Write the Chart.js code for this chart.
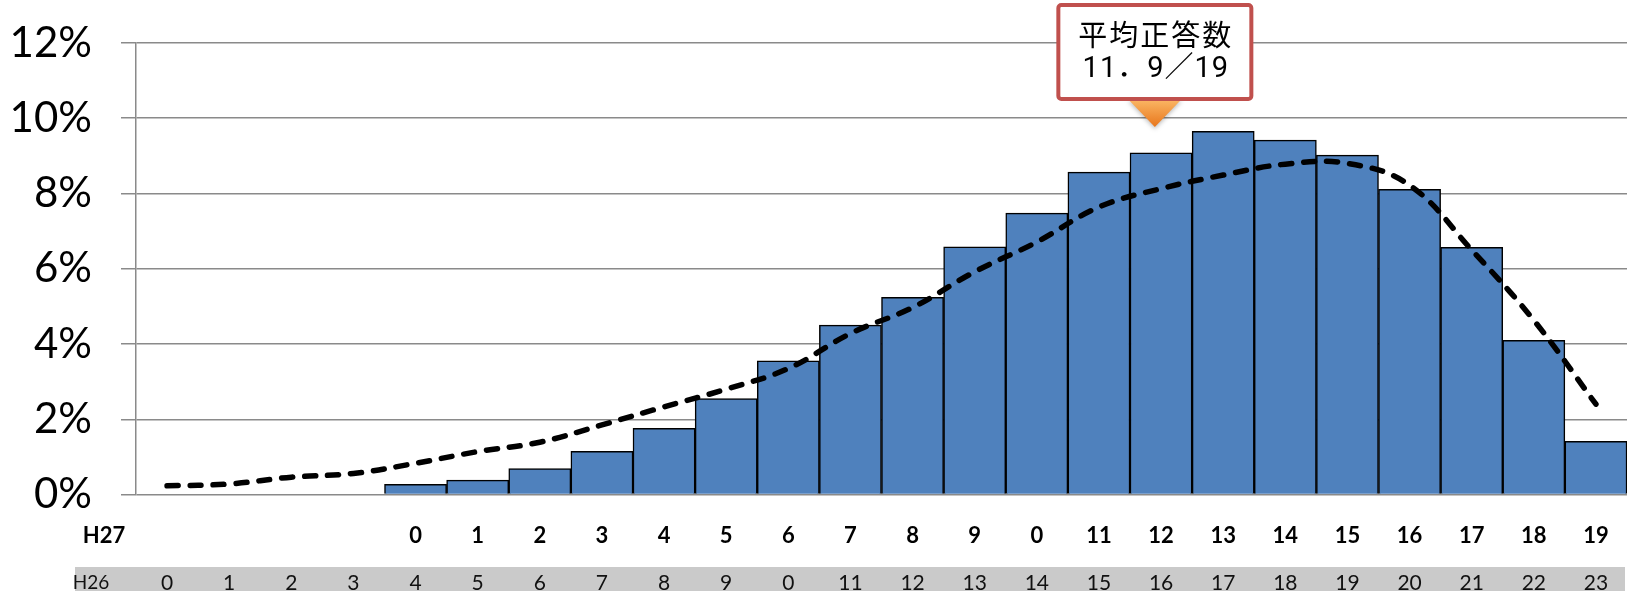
<!DOCTYPE html>
<html lang="ja">
<head>
<meta charset="utf-8">
<script src="https://cdn.jsdelivr.net/npm/chart.js@4/dist/chart.umd.min.js"></script>
<style>
  html, body { margin: 0; padding: 0; background: #ffffff; }
  #wrap { width: 1633px; height: 591px; position: relative; }
</style>
</head>
<body>
<div id="wrap"><canvas id="chart"></canvas></div>
<script>
// Score categories (H26 row labels, 24 categories)
const h26Labels = ['0','1','2','3','4','5','6','7','8','9','0','11','12','13','14','15','16','17','18','19','20','21','22','23'];
// H27 row labels start under the 5th category
const h27Start = 4;
const h27Labels = ['0','1','2','3','4','5','6','7','8','9','0','11','12','13','14','15','16','17','18','19'];

// H27 distribution (%), bars
const h27Values = [0.27, 0.38, 0.69, 1.15, 1.76, 2.55, 3.55, 4.50, 5.24, 6.58,
                   7.48, 8.57, 9.08, 9.65, 9.42, 9.02, 8.11, 6.57, 4.10, 1.41];
// H26 distribution (%), dashed line
const h26Values = [0.23, 0.28, 0.46, 0.56, 0.83, 1.14, 1.39, 1.85, 2.33, 2.80,
                   3.35, 4.28, 4.97, 5.92, 6.71, 7.64, 8.13, 8.49, 8.78, 8.80,
                   8.22, 6.50, 4.63, 2.40];

// Y axis ticks (%)
const yTicks = [0, 2, 4, 6, 8, 10, 12];

// Average score callout
const calloutTitle = '平均正答数';
const meanScore = 11.9;
const totalQuestions = 19;

const barData = h26Labels.map((_, i) => (i >= h27Start ? h27Values[i - h27Start] : null));

// Two-row category labels under the plot
const rowLabelsPlugin = {
  id: 'rowLabels',
  afterDraw(chart) {
    const ctx = chart.ctx;
    const x = chart.scales.x;
    ctx.save();
    // H26 band
    ctx.fillStyle = '#cacaca';
    ctx.fillRect(75, 567, chart.width - 75 - 8, 24);
    ctx.textAlign = 'center';
    ctx.textBaseline = 'middle';
    // H27 row
    ctx.fillStyle = '#000000';
    ctx.font = 'bold 22px Lato';
    ctx.fillText('H27', 104, 536);
    h27Labels.forEach((t, i) => {
      ctx.fillText(t, x.getPixelForValue(i + h27Start), 536);
    });
    // H26 row
    ctx.fillStyle = '#111111';
    ctx.font = '21px Lato';
    h26Labels.forEach((t, i) => {
      ctx.fillText(t, x.getPixelForValue(i), 583);
    });
    ctx.font = '19px Lato';
    ctx.fillText('H26', 91, 583);
    ctx.restore();
  }
};

// Callout box pointing at the mean score on the H27 scale
const calloutPlugin = {
  id: 'callout',
  afterDatasetsDraw(chart) {
    const ctx = chart.ctx;
    const px = chart.scales.x.getPixelForValue(h27Start + meanScore);
    const boxW = 193, boxH = 94, boxTop = 5;
    const left = px - boxW / 2;
    ctx.save();
    // pointer
    const g = ctx.createLinearGradient(0, boxTop + boxH, 0, boxTop + boxH + 28);
    g.addColorStop(0, '#fbb866');
    g.addColorStop(1, '#e8761c');
    ctx.shadowColor = 'rgba(0,0,0,0.25)';
    ctx.shadowBlur = 4;
    ctx.shadowOffsetY = 2;
    ctx.beginPath();
    ctx.moveTo(px - 27, boxTop + boxH);
    ctx.lineTo(px + 27, boxTop + boxH);
    ctx.lineTo(px, boxTop + boxH + 28);
    ctx.closePath();
    ctx.fillStyle = g;
    ctx.fill();
    ctx.shadowColor = 'transparent';
    // box
    ctx.beginPath();
    ctx.roundRect(left, boxTop, boxW, boxH, 3);
    ctx.fillStyle = '#ffffff';
    ctx.fill();
    ctx.lineWidth = 4;
    ctx.strokeStyle = '#c0504d';
    ctx.stroke();
    // text
    ctx.fillStyle = '#000000';
    ctx.textAlign = 'center';
    ctx.textBaseline = 'middle';
    ctx.font = '29px "Noto Sans CJK JP"';
    ctx.letterSpacing = '2px';
    ctx.fillText(calloutTitle, px + 1, boxTop + 30);
    ctx.font = '29px Roboto, "Noto Sans CJK JP"';
    ctx.letterSpacing = '1px';
    const line2 = String(meanScore).replace('.', '．') + '／' + totalQuestions;
    ctx.fillText(line2, px + 1, boxTop + 65);
    ctx.restore();
  }
};

new Chart(document.getElementById('chart'), {
  data: {
    labels: h26Labels,
    datasets: [
      {
        type: 'line',
        label: 'H26',
        data: h26Values,
        borderColor: '#000000',
        borderWidth: 5.5,
        borderDash: [11, 12],
        borderCapStyle: 'round',
        pointRadius: 0,
        tension: 0.4,
        fill: false,
        order: 0
      },
      {
        type: 'bar',
        label: 'H27',
        data: barData,
        backgroundColor: '#4f81bd',
        borderColor: '#000000',
        borderWidth: 1.5,
        categoryPercentage: 1,
        barPercentage: 1,
        order: 1
      }
    ]
  },
  options: {
    responsive: true,
    maintainAspectRatio: false,
    animation: false,
    layout: { padding: { top: 43, right: 6, left: 0, bottom: 0 } },
    plugins: { legend: { display: false }, tooltip: { enabled: false } },
    scales: {
      x: {
        type: 'category',
        offset: true,
        ticks: { display: false },
        grid: { display: false },
        border: { display: false },
        afterFit(scale) { scale.height = 96.5; }
      },
      y: {
        min: 0,
        max: 12,
        afterBuildTicks(scale) { scale.ticks = yTicks.map(v => ({ value: v })); },
        ticks: {
          font: { family: 'Lato', size: 42 },
          color: '#000000',
          padding: 29,
          callback: v => v + '%'
        },
        grid: { color: '#8a8a8a', lineWidth: 1.5, tickLength: 15, drawTicks: true },
        border: { display: true, color: '#8a8a8a', width: 1.5 },
        afterFit(scale) {
          scale.width = 136;
          scale.paddingTop = 0;
          scale.paddingBottom = 0;
        }
      }
    }
  },
  plugins: [rowLabelsPlugin, calloutPlugin]
});
</script>
</body>
</html>
